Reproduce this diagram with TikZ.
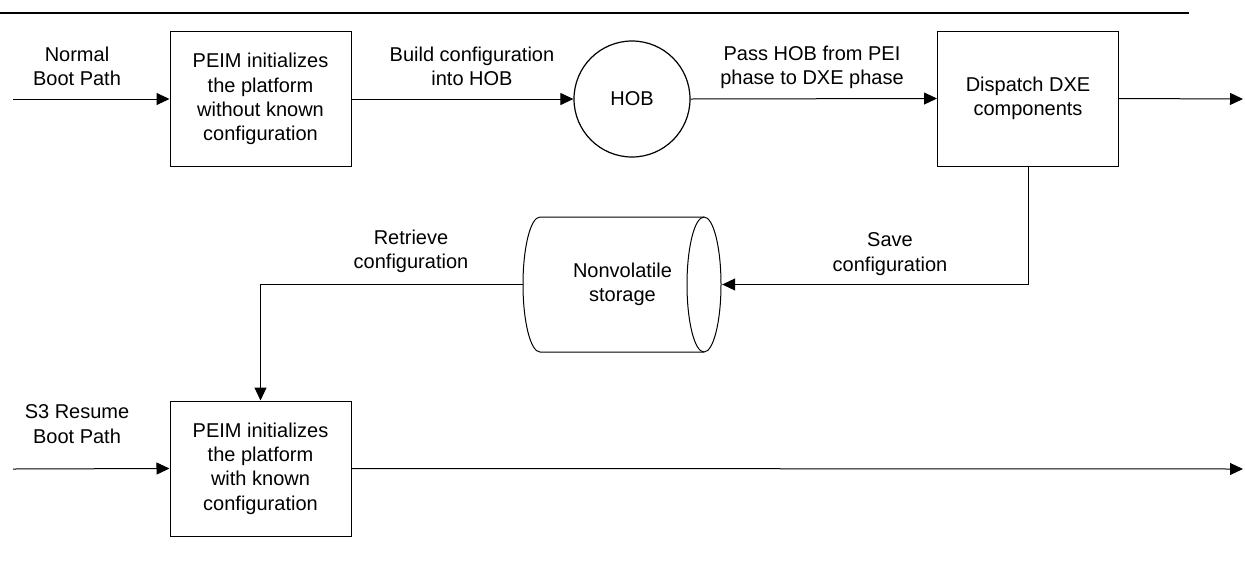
\documentclass[tikz,border=0pt]{standalone}
\usepackage{fontspec}
\setmainfont{Liberation Sans}
\usetikzlibrary{arrows.meta}
\begin{document}
\begin{tikzpicture}[x=1pt,y=1pt,
  every node/.style={font=\fontsize{20}{24.3}\selectfont, align=center, inner sep=0pt},
  procbox/.style={draw, line width=1pt, minimum width=181pt, minimum height=135pt},
  conn/.style={line width=1pt},
  arr/.style={conn, -{Triangle[length=13pt,width=12pt]}}]
\useasboundingbox (0,0) rectangle (1245,-582);
% top rule
\coordinate (r0) at (0,-13);
\coordinate (r1) at (1189,-13);
\draw[line width=2pt] (r0) -- (r1);
% nodes
\node[procbox] (box1) at (260.5,-99) {PEIM initializes\\the platform\\without known\\configuration};
\node[draw, circle, line width=1.2pt, minimum size=116pt] (hob) at (632,-99) {HOB};
\node[procbox] (dxe) at (1028,-98.5) {Dispatch DXE\\components};
\node[procbox] (box2) at (260.5,-468.5) {PEIM initializes\\the platform\\with known\\configuration};
\node[minimum width=199pt, minimum height=135pt] (nv) at (622.5,-284.5) {Nonvolatile\\storage};
% cylinder outline
\draw[line width=1pt] (704,-217) -- (540,-217)
  arc[start angle=90, end angle=270, x radius=17pt, y radius=67.5pt]
  -- (704,-352);
\draw[line width=1pt] (704,-284.5) ellipse[x radius=17pt, y radius=67.5pt];
% free ends
\coordinate (n0) at (13,-99);
\coordinate (s0) at (13,-469);
\coordinate (outTop) at (1243,-99);
\coordinate (outBot) at (1243,-469);
% labels
\node (lnormal) at (77,-66.5) {Normal\\Boot Path};
\node (ls3) at (77,-424) {S3 Resume\\Boot Path};
\node (lbuild) at (472,-66) {Build configuration\\into HOB};
\node (lpass) at (812,-67) {Pass HOB from PEI\\phase to DXE phase};
\node (lret) at (411,-251) {Retrieve\\configuration};
\node (lsave) at (890,-254) {Save\\configuration};
% connectors
\draw[arr] (n0) -- (box1.west);
\draw[arr] (box1.east) -- (hob.west);
\draw[arr] (hob.east) -- (dxe.west);
\draw[arr] (dxe.east) -- (outTop);
\draw[arr] (dxe.south) |- (nv.east);
\draw[arr] (nv.west) -| (box2.north);
\draw[arr] (s0) -- (box2.west);
\draw[arr] (box2.east) -- (outBot);
\end{tikzpicture}
\end{document}
